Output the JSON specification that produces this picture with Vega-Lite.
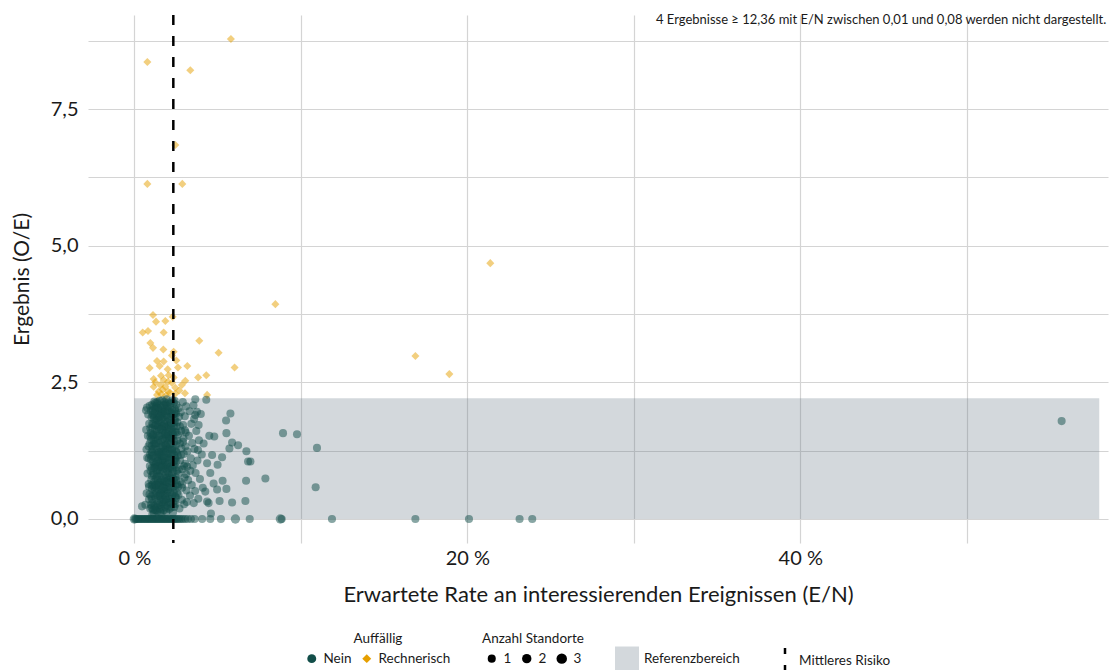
{
  "$schema": "https://vega.github.io/schema/vega-lite/v6.json",
  "width": 1020,
  "height": 528,
  "autosize": {"type": "none"},
  "padding": {"left": 88, "top": 15, "right": 1, "bottom": 127},
  "background": "white",
  "config": {
    "font": "Lato",
    "view": {"stroke": null},
    "axis": {
      "domain": false,
      "ticks": false,
      "gridColor": "#d4d4d4",
      "gridWidth": 1.2,
      "labelFont": "Lato",
      "labelFontSize": 20,
      "labelColor": "#1a1a1a",
      "titleFont": "Lato",
      "titleFontSize": 21,
      "titleFontWeight": "normal",
      "titleColor": "#1a1a1a",
      "labelOverlap": false
    },
    "legend": {
      "orient": "bottom",
      "direction": "horizontal",
      "titleFont": "Lato",
      "labelFont": "Lato",
      "titleFontWeight": "normal",
      "titleFontSize": 13.5,
      "labelFontSize": 13.5,
      "titleColor": "#1a1a1a",
      "labelColor": "#1a1a1a",
      "titleAnchor": "middle",
      "titlePadding": 6,
      "columnPadding": 8,
      "labelOffset": 5,
      "offset": 27,
      "layout": {"bottom": {"anchor": "middle", "direction": "horizontal", "margin": 31}}
    }
  },
  "datasets": {
    "pts": [
      {"rate": 5.8, "oe": 8.78, "auff": "Rechnerisch", "n": 1},
      {"rate": 0.78, "oe": 8.36, "auff": "Rechnerisch", "n": 1},
      {"rate": 3.36, "oe": 8.21, "auff": "Rechnerisch", "n": 1},
      {"rate": 2.46, "oe": 6.84, "auff": "Rechnerisch", "n": 1},
      {"rate": 0.78, "oe": 6.13, "auff": "Rechnerisch", "n": 1},
      {"rate": 2.88, "oe": 6.13, "auff": "Rechnerisch", "n": 1},
      {"rate": 21.38, "oe": 4.68, "auff": "Rechnerisch", "n": 1},
      {"rate": 8.47, "oe": 3.93, "auff": "Rechnerisch", "n": 1},
      {"rate": 16.88, "oe": 2.98, "auff": "Rechnerisch", "n": 1},
      {"rate": 18.92, "oe": 2.65, "auff": "Rechnerisch", "n": 1},
      {"rate": 1.12, "oe": 3.73, "auff": "Rechnerisch", "n": 1},
      {"rate": 1.30, "oe": 3.61, "auff": "Rechnerisch", "n": 1},
      {"rate": 1.86, "oe": 3.62, "auff": "Rechnerisch", "n": 1},
      {"rate": 2.30, "oe": 3.70, "auff": "Rechnerisch", "n": 1},
      {"rate": 0.50, "oe": 3.41, "auff": "Rechnerisch", "n": 1},
      {"rate": 0.82, "oe": 3.44, "auff": "Rechnerisch", "n": 1},
      {"rate": 1.76, "oe": 3.41, "auff": "Rechnerisch", "n": 1},
      {"rate": 3.90, "oe": 3.26, "auff": "Rechnerisch", "n": 1},
      {"rate": 0.96, "oe": 3.22, "auff": "Rechnerisch", "n": 1},
      {"rate": 1.12, "oe": 3.13, "auff": "Rechnerisch", "n": 1},
      {"rate": 1.74, "oe": 3.10, "auff": "Rechnerisch", "n": 1},
      {"rate": 2.36, "oe": 3.06, "auff": "Rechnerisch", "n": 1},
      {"rate": 2.26, "oe": 2.99, "auff": "Rechnerisch", "n": 1},
      {"rate": 5.06, "oe": 3.04, "auff": "Rechnerisch", "n": 1},
      {"rate": 6.02, "oe": 2.77, "auff": "Rechnerisch", "n": 1},
      {"rate": 2.52, "oe": 2.90, "auff": "Rechnerisch", "n": 1},
      {"rate": 1.36, "oe": 2.89, "auff": "Rechnerisch", "n": 1},
      {"rate": 1.76, "oe": 2.88, "auff": "Rechnerisch", "n": 1},
      {"rate": 1.52, "oe": 2.80, "auff": "Rechnerisch", "n": 1},
      {"rate": 0.92, "oe": 2.76, "auff": "Rechnerisch", "n": 1},
      {"rate": 2.00, "oe": 2.74, "auff": "Rechnerisch", "n": 1},
      {"rate": 2.62, "oe": 2.77, "auff": "Rechnerisch", "n": 1},
      {"rate": 3.18, "oe": 2.80, "auff": "Rechnerisch", "n": 1},
      {"rate": 1.60, "oe": 2.62, "auff": "Rechnerisch", "n": 1},
      {"rate": 2.06, "oe": 2.63, "auff": "Rechnerisch", "n": 1},
      {"rate": 2.36, "oe": 2.59, "auff": "Rechnerisch", "n": 1},
      {"rate": 4.32, "oe": 2.63, "auff": "Rechnerisch", "n": 1},
      {"rate": 3.83, "oe": 2.59, "auff": "Rechnerisch", "n": 1},
      {"rate": 3.06, "oe": 2.53, "auff": "Rechnerisch", "n": 1},
      {"rate": 1.16, "oe": 2.56, "auff": "Rechnerisch", "n": 1},
      {"rate": 1.76, "oe": 2.54, "auff": "Rechnerisch", "n": 1},
      {"rate": 2.02, "oe": 2.51, "auff": "Rechnerisch", "n": 1},
      {"rate": 2.26, "oe": 2.49, "auff": "Rechnerisch", "n": 1},
      {"rate": 1.56, "oe": 2.45, "auff": "Rechnerisch", "n": 1},
      {"rate": 1.16, "oe": 2.42, "auff": "Rechnerisch", "n": 1},
      {"rate": 1.86, "oe": 2.42, "auff": "Rechnerisch", "n": 1},
      {"rate": 2.46, "oe": 2.40, "auff": "Rechnerisch", "n": 1},
      {"rate": 1.46, "oe": 2.33, "auff": "Rechnerisch", "n": 1},
      {"rate": 2.02, "oe": 2.33, "auff": "Rechnerisch", "n": 1},
      {"rate": 1.70, "oe": 2.37, "auff": "Rechnerisch", "n": 1},
      {"rate": 4.37, "oe": 2.27, "auff": "Rechnerisch", "n": 1},
      {"rate": 2.46, "oe": 2.29, "auff": "Rechnerisch", "n": 1},
      {"rate": 1.36, "oe": 2.27, "auff": "Rechnerisch", "n": 1},
      {"rate": 1.90, "oe": 2.26, "auff": "Rechnerisch", "n": 1},
      {"rate": 2.15, "oe": 2.31, "auff": "Rechnerisch", "n": 1},
      {"rate": 1.62, "oe": 2.28, "auff": "Rechnerisch", "n": 1},
      {"rate": 3.04, "oe": 2.30, "auff": "Rechnerisch", "n": 1},
      {"rate": 2.70, "oe": 2.35, "auff": "Rechnerisch", "n": 1},
      {"rate": 1.25, "oe": 2.50, "auff": "Rechnerisch", "n": 1},
      {"rate": 2.85, "oe": 2.45, "auff": "Rechnerisch", "n": 1},
      {"rate": 8.93, "oe": 1.57, "auff": "Nein", "n": 1},
      {"rate": 9.77, "oe": 1.55, "auff": "Nein", "n": 1},
      {"rate": 10.97, "oe": 1.30, "auff": "Nein", "n": 1},
      {"rate": 6.97, "oe": 1.05, "auff": "Nein", "n": 1},
      {"rate": 7.87, "oe": 0.74, "auff": "Nein", "n": 1},
      {"rate": 10.89, "oe": 0.58, "auff": "Nein", "n": 1},
      {"rate": 55.7, "oe": 1.79, "auff": "Nein", "n": 1},
      {"rate": 5.77, "oe": 1.93, "auff": "Nein", "n": 1},
      {"rate": 5.51, "oe": 1.80, "auff": "Nein", "n": 1},
      {"rate": 5.53, "oe": 1.57, "auff": "Nein", "n": 1},
      {"rate": 5.87, "oe": 1.40, "auff": "Nein", "n": 1},
      {"rate": 6.23, "oe": 1.35, "auff": "Nein", "n": 1},
      {"rate": 5.71, "oe": 1.29, "auff": "Nein", "n": 1},
      {"rate": 6.73, "oe": 1.24, "auff": "Nein", "n": 1},
      {"rate": 6.83, "oe": 1.05, "auff": "Nein", "n": 1},
      {"rate": 5.27, "oe": 1.13, "auff": "Nein", "n": 1},
      {"rate": 4.80, "oe": 1.51, "auff": "Nein", "n": 1},
      {"rate": 4.50, "oe": 1.52, "auff": "Nein", "n": 1},
      {"rate": 6.71, "oe": 0.70, "auff": "Nein", "n": 1},
      {"rate": 5.30, "oe": 0.70, "auff": "Nein", "n": 1},
      {"rate": 5.53, "oe": 0.55, "auff": "Nein", "n": 1},
      {"rate": 5.12, "oe": 0.33, "auff": "Nein", "n": 1},
      {"rate": 5.87, "oe": 0.30, "auff": "Nein", "n": 1},
      {"rate": 6.67, "oe": 0.33, "auff": "Nein", "n": 1},
      {"rate": 4.97, "oe": 0.54, "auff": "Nein", "n": 1},
      {"rate": 4.60, "oe": 0.10, "auff": "Nein", "n": 1},
      {"rate": 4.37, "oe": 0.32, "auff": "Nein", "n": 1},
      {"rate": 5.00, "oe": 0.99, "auff": "Nein", "n": 1},
      {"rate": 4.67, "oe": 1.17, "auff": "Nein", "n": 1},
      {"rate": 4.37, "oe": 1.02, "auff": "Nein", "n": 1},
      {"rate": 4.56, "oe": 0.84, "auff": "Nein", "n": 1},
      {"rate": 4.26, "oe": 0.50, "auff": "Nein", "n": 1},
      {"rate": 4.46, "oe": 0.29, "auff": "Nein", "n": 1},
      {"rate": 4.76, "oe": 0.65, "auff": "Nein", "n": 1},
      {"rate": 4.16, "oe": 1.38, "auff": "Nein", "n": 1},
      {"rate": 3.86, "oe": 1.72, "auff": "Nein", "n": 1},
      {"rate": 3.66, "oe": 1.90, "auff": "Nein", "n": 1},
      {"rate": 3.76, "oe": 1.96, "auff": "Nein", "n": 1},
      {"rate": 3.66, "oe": 2.19, "auff": "Nein", "n": 1},
      {"rate": 4.32, "oe": 2.18, "auff": "Nein", "n": 1},
      {"rate": 0.70, "oe": 1.99, "auff": "Nein", "n": 1},
      {"rate": 0.96, "oe": 1.51, "auff": "Nein", "n": 1},
      {"rate": 0.86, "oe": 1.11, "auff": "Nein", "n": 1},
      {"rate": 0.66, "oe": 0.26, "auff": "Nein", "n": 1},
      {"rate": 0.46, "oe": 0.23, "auff": "Nein", "n": 1},
      {"rate": 0.74, "oe": 0.47, "auff": "Nein", "n": 1},
      {"rate": 0.77, "oe": 1.12, "auff": "Nein", "n": 1},
      {"rate": 0.71, "oe": 1.63, "auff": "Nein", "n": 1},
      {"rate": 0.79, "oe": 0.83, "auff": "Nein", "n": 1},
      {"rate": 0.83, "oe": 1.91, "auff": "Nein", "n": 1},
      {"rate": 0.88, "oe": 0.36, "auff": "Nein", "n": 1},
      {"rate": 0.92, "oe": 1.38, "auff": "Nein", "n": 1},
      {"rate": 0.76, "oe": 2.04, "auff": "Nein", "n": 1},
      {"rate": 0.86, "oe": 0.64, "auff": "Nein", "n": 1},
      {"rate": 0.93, "oe": 0.97, "auff": "Nein", "n": 1},
      {"rate": 0.81, "oe": 1.52, "auff": "Nein", "n": 1},
      {"rate": 0.89, "oe": 1.74, "auff": "Nein", "n": 1},
      {"rate": 0.95, "oe": 0.19, "auff": "Nein", "n": 1},
      {"rate": 0.73, "oe": 1.27, "auff": "Nein", "n": 1},
      {"rate": 1.01, "oe": 0.41, "auff": "Nein", "n": 1},
      {"rate": 1.04, "oe": 0.93, "auff": "Nein", "n": 1},
      {"rate": 0.98, "oe": 1.57, "auff": "Nein", "n": 1},
      {"rate": 1.07, "oe": 1.21, "auff": "Nein", "n": 1},
      {"rate": 1.03, "oe": 1.86, "auff": "Nein", "n": 1},
      {"rate": 1.10, "oe": 0.63, "auff": "Nein", "n": 1},
      {"rate": 1.12, "oe": 0.17, "auff": "Nein", "n": 1},
      {"rate": 1.06, "oe": 2.09, "auff": "Nein", "n": 1},
      {"rate": 1.15, "oe": 1.44, "auff": "Nein", "n": 1},
      {"rate": 1.09, "oe": 0.29, "auff": "Nein", "n": 1},
      {"rate": 1.18, "oe": 1.02, "auff": "Nein", "n": 1},
      {"rate": 1.13, "oe": 1.73, "auff": "Nein", "n": 1},
      {"rate": 1.21, "oe": 0.52, "auff": "Nein", "n": 1},
      {"rate": 1.16, "oe": 0.81, "auff": "Nein", "n": 1},
      {"rate": 1.24, "oe": 1.96, "auff": "Nein", "n": 1},
      {"rate": 1.19, "oe": 1.29, "auff": "Nein", "n": 1},
      {"rate": 1.27, "oe": 0.38, "auff": "Nein", "n": 1},
      {"rate": 1.22, "oe": 1.63, "auff": "Nein", "n": 1},
      {"rate": 1.05, "oe": 1.34, "auff": "Nein", "n": 1},
      {"rate": 1.11, "oe": 1.99, "auff": "Nein", "n": 1},
      {"rate": 1.28, "oe": 0.74, "auff": "Nein", "n": 1},
      {"rate": 1.25, "oe": 1.12, "auff": "Nein", "n": 1},
      {"rate": 1.02, "oe": 0.71, "auff": "Nein", "n": 1},
      {"rate": 1.14, "oe": 0.46, "auff": "Nein", "n": 1},
      {"rate": 1.20, "oe": 2.15, "auff": "Nein", "n": 1},
      {"rate": 1.08, "oe": 1.66, "auff": "Nein", "n": 1},
      {"rate": 1.26, "oe": 1.48, "auff": "Nein", "n": 1},
      {"rate": 1.17, "oe": 0.11, "auff": "Nein", "n": 1},
      {"rate": 1.23, "oe": 0.95, "auff": "Nein", "n": 1},
      {"rate": 1.00, "oe": 1.09, "auff": "Nein", "n": 1},
      {"rate": 1.29, "oe": 1.81, "auff": "Nein", "n": 1},
      {"rate": 1.13, "oe": 1.16, "auff": "Nein", "n": 1},
      {"rate": 1.06, "oe": 0.55, "auff": "Nein", "n": 1},
      {"rate": 1.19, "oe": 0.68, "auff": "Nein", "n": 1},
      {"rate": 1.24, "oe": 0.24, "auff": "Nein", "n": 1},
      {"rate": 1.09, "oe": 1.90, "auff": "Nein", "n": 1},
      {"rate": 1.27, "oe": 2.03, "auff": "Nein", "n": 1},
      {"rate": 1.16, "oe": 1.53, "auff": "Nein", "n": 1},
      {"rate": 1.04, "oe": 0.21, "auff": "Nein", "n": 1},
      {"rate": 1.22, "oe": 1.38, "auff": "Nein", "n": 1},
      {"rate": 1.31, "oe": 0.57, "auff": "Nein", "n": 1},
      {"rate": 1.34, "oe": 1.26, "auff": "Nein", "n": 1},
      {"rate": 1.38, "oe": 0.14, "auff": "Nein", "n": 1},
      {"rate": 1.33, "oe": 1.88, "auff": "Nein", "n": 1},
      {"rate": 1.41, "oe": 0.89, "auff": "Nein", "n": 1},
      {"rate": 1.36, "oe": 1.61, "auff": "Nein", "n": 1},
      {"rate": 1.44, "oe": 0.42, "auff": "Nein", "n": 1},
      {"rate": 1.39, "oe": 2.11, "auff": "Nein", "n": 1},
      {"rate": 1.47, "oe": 1.07, "auff": "Nein", "n": 1},
      {"rate": 1.42, "oe": 0.71, "auff": "Nein", "n": 1},
      {"rate": 1.49, "oe": 1.79, "auff": "Nein", "n": 1},
      {"rate": 1.45, "oe": 1.39, "auff": "Nein", "n": 1},
      {"rate": 1.52, "oe": 0.26, "auff": "Nein", "n": 1},
      {"rate": 1.48, "oe": 2.00, "auff": "Nein", "n": 1},
      {"rate": 1.55, "oe": 0.96, "auff": "Nein", "n": 1},
      {"rate": 1.51, "oe": 1.52, "auff": "Nein", "n": 1},
      {"rate": 1.58, "oe": 0.61, "auff": "Nein", "n": 1},
      {"rate": 1.54, "oe": 1.19, "auff": "Nein", "n": 1},
      {"rate": 1.61, "oe": 1.94, "auff": "Nein", "n": 1},
      {"rate": 1.57, "oe": 0.35, "auff": "Nein", "n": 1},
      {"rate": 1.64, "oe": 1.33, "auff": "Nein", "n": 1},
      {"rate": 1.60, "oe": 0.83, "auff": "Nein", "n": 1},
      {"rate": 1.67, "oe": 1.70, "auff": "Nein", "n": 1},
      {"rate": 1.63, "oe": 0.09, "auff": "Nein", "n": 1},
      {"rate": 1.69, "oe": 1.08, "auff": "Nein", "n": 1},
      {"rate": 1.66, "oe": 2.17, "auff": "Nein", "n": 1},
      {"rate": 1.35, "oe": 0.97, "auff": "Nein", "n": 1},
      {"rate": 1.40, "oe": 1.45, "auff": "Nein", "n": 1},
      {"rate": 1.46, "oe": 0.54, "auff": "Nein", "n": 1},
      {"rate": 1.53, "oe": 1.68, "auff": "Nein", "n": 1},
      {"rate": 1.59, "oe": 1.42, "auff": "Nein", "n": 1},
      {"rate": 1.65, "oe": 0.49, "auff": "Nein", "n": 1},
      {"rate": 1.32, "oe": 2.06, "auff": "Nein", "n": 1},
      {"rate": 1.43, "oe": 1.13, "auff": "Nein", "n": 1},
      {"rate": 1.50, "oe": 0.78, "auff": "Nein", "n": 1},
      {"rate": 1.56, "oe": 2.08, "auff": "Nein", "n": 1},
      {"rate": 1.62, "oe": 1.23, "auff": "Nein", "n": 1},
      {"rate": 1.68, "oe": 0.69, "auff": "Nein", "n": 1},
      {"rate": 1.37, "oe": 0.33, "auff": "Nein", "n": 1},
      {"rate": 1.44, "oe": 1.86, "auff": "Nein", "n": 1},
      {"rate": 1.58, "oe": 1.03, "auff": "Nein", "n": 1},
      {"rate": 1.66, "oe": 1.57, "auff": "Nein", "n": 1},
      {"rate": 1.34, "oe": 0.77, "auff": "Nein", "n": 1},
      {"rate": 1.48, "oe": 0.19, "auff": "Nein", "n": 1},
      {"rate": 1.55, "oe": 1.31, "auff": "Nein", "n": 1},
      {"rate": 1.61, "oe": 0.23, "auff": "Nein", "n": 1},
      {"rate": 1.69, "oe": 1.85, "auff": "Nein", "n": 1},
      {"rate": 1.39, "oe": 1.73, "auff": "Nein", "n": 1},
      {"rate": 1.52, "oe": 2.16, "auff": "Nein", "n": 1},
      {"rate": 1.63, "oe": 0.98, "auff": "Nein", "n": 1},
      {"rate": 1.71, "oe": 0.44, "auff": "Nein", "n": 1},
      {"rate": 1.74, "oe": 1.47, "auff": "Nein", "n": 1},
      {"rate": 1.77, "oe": 0.16, "auff": "Nein", "n": 1},
      {"rate": 1.73, "oe": 1.97, "auff": "Nein", "n": 1},
      {"rate": 1.80, "oe": 0.92, "auff": "Nein", "n": 1},
      {"rate": 1.76, "oe": 1.23, "auff": "Nein", "n": 1},
      {"rate": 1.83, "oe": 0.62, "auff": "Nein", "n": 1},
      {"rate": 1.79, "oe": 1.74, "auff": "Nein", "n": 1},
      {"rate": 1.86, "oe": 1.36, "auff": "Nein", "n": 1},
      {"rate": 1.82, "oe": 0.31, "auff": "Nein", "n": 1},
      {"rate": 1.88, "oe": 2.09, "auff": "Nein", "n": 1},
      {"rate": 1.85, "oe": 0.81, "auff": "Nein", "n": 1},
      {"rate": 1.91, "oe": 1.12, "auff": "Nein", "n": 1},
      {"rate": 1.87, "oe": 1.58, "auff": "Nein", "n": 1},
      {"rate": 1.94, "oe": 0.47, "auff": "Nein", "n": 1},
      {"rate": 1.90, "oe": 1.89, "auff": "Nein", "n": 1},
      {"rate": 1.97, "oe": 0.99, "auff": "Nein", "n": 1},
      {"rate": 1.93, "oe": 0.13, "auff": "Nein", "n": 1},
      {"rate": 2.00, "oe": 1.67, "auff": "Nein", "n": 1},
      {"rate": 1.96, "oe": 1.31, "auff": "Nein", "n": 1},
      {"rate": 2.03, "oe": 0.71, "auff": "Nein", "n": 1},
      {"rate": 1.99, "oe": 2.02, "auff": "Nein", "n": 1},
      {"rate": 2.06, "oe": 1.19, "auff": "Nein", "n": 1},
      {"rate": 2.02, "oe": 0.38, "auff": "Nein", "n": 1},
      {"rate": 2.09, "oe": 1.82, "auff": "Nein", "n": 1},
      {"rate": 2.05, "oe": 0.58, "auff": "Nein", "n": 1},
      {"rate": 1.72, "oe": 1.06, "auff": "Nein", "n": 1},
      {"rate": 1.78, "oe": 1.89, "auff": "Nein", "n": 1},
      {"rate": 1.84, "oe": 1.04, "auff": "Nein", "n": 1},
      {"rate": 1.89, "oe": 0.55, "auff": "Nein", "n": 1},
      {"rate": 1.95, "oe": 1.52, "auff": "Nein", "n": 1},
      {"rate": 2.01, "oe": 0.87, "auff": "Nein", "n": 1},
      {"rate": 2.07, "oe": 1.44, "auff": "Nein", "n": 1},
      {"rate": 1.75, "oe": 0.67, "auff": "Nein", "n": 1},
      {"rate": 1.81, "oe": 2.14, "auff": "Nein", "n": 1},
      {"rate": 1.88, "oe": 1.26, "auff": "Nein", "n": 1},
      {"rate": 1.92, "oe": 0.76, "auff": "Nein", "n": 1},
      {"rate": 1.98, "oe": 0.24, "auff": "Nein", "n": 1},
      {"rate": 2.04, "oe": 1.96, "auff": "Nein", "n": 1},
      {"rate": 2.08, "oe": 1.02, "auff": "Nein", "n": 1},
      {"rate": 1.73, "oe": 0.27, "auff": "Nein", "n": 1},
      {"rate": 1.86, "oe": 1.69, "auff": "Nein", "n": 1},
      {"rate": 1.94, "oe": 2.19, "auff": "Nein", "n": 1},
      {"rate": 2.00, "oe": 1.38, "auff": "Nein", "n": 1},
      {"rate": 1.79, "oe": 0.51, "auff": "Nein", "n": 1},
      {"rate": 1.91, "oe": 0.35, "auff": "Nein", "n": 1},
      {"rate": 2.06, "oe": 0.84, "auff": "Nein", "n": 1},
      {"rate": 1.83, "oe": 1.45, "auff": "Nein", "n": 1},
      {"rate": 1.97, "oe": 1.78, "auff": "Nein", "n": 1},
      {"rate": 2.10, "oe": 0.18, "auff": "Nein", "n": 1},
      {"rate": 2.12, "oe": 1.27, "auff": "Nein", "n": 1},
      {"rate": 2.15, "oe": 0.49, "auff": "Nein", "n": 1},
      {"rate": 2.18, "oe": 1.71, "auff": "Nein", "n": 1},
      {"rate": 2.14, "oe": 0.93, "auff": "Nein", "n": 1},
      {"rate": 2.21, "oe": 0.21, "auff": "Nein", "n": 1},
      {"rate": 2.17, "oe": 2.05, "auff": "Nein", "n": 1},
      {"rate": 2.24, "oe": 1.09, "auff": "Nein", "n": 1},
      {"rate": 2.20, "oe": 1.49, "auff": "Nein", "n": 1},
      {"rate": 2.27, "oe": 0.66, "auff": "Nein", "n": 1},
      {"rate": 2.23, "oe": 1.88, "auff": "Nein", "n": 1},
      {"rate": 2.30, "oe": 1.31, "auff": "Nein", "n": 1},
      {"rate": 2.26, "oe": 0.37, "auff": "Nein", "n": 1},
      {"rate": 2.33, "oe": 0.86, "auff": "Nein", "n": 1},
      {"rate": 2.29, "oe": 1.63, "auff": "Nein", "n": 1},
      {"rate": 2.36, "oe": 2.12, "auff": "Nein", "n": 1},
      {"rate": 2.32, "oe": 0.12, "auff": "Nein", "n": 1},
      {"rate": 2.39, "oe": 1.17, "auff": "Nein", "n": 1},
      {"rate": 2.35, "oe": 0.59, "auff": "Nein", "n": 1},
      {"rate": 2.42, "oe": 1.84, "auff": "Nein", "n": 1},
      {"rate": 2.38, "oe": 0.98, "auff": "Nein", "n": 1},
      {"rate": 2.45, "oe": 0.41, "auff": "Nein", "n": 1},
      {"rate": 2.41, "oe": 1.42, "auff": "Nein", "n": 1},
      {"rate": 2.48, "oe": 0.77, "auff": "Nein", "n": 1},
      {"rate": 2.44, "oe": 2.01, "auff": "Nein", "n": 1},
      {"rate": 2.51, "oe": 1.24, "auff": "Nein", "n": 1},
      {"rate": 2.47, "oe": 0.27, "auff": "Nein", "n": 1},
      {"rate": 2.54, "oe": 1.58, "auff": "Nein", "n": 1},
      {"rate": 2.50, "oe": 1.93, "auff": "Nein", "n": 1},
      {"rate": 2.57, "oe": 0.63, "auff": "Nein", "n": 1},
      {"rate": 2.53, "oe": 1.05, "auff": "Nein", "n": 1},
      {"rate": 2.13, "oe": 1.96, "auff": "Nein", "n": 1},
      {"rate": 2.19, "oe": 0.74, "auff": "Nein", "n": 1},
      {"rate": 2.25, "oe": 1.57, "auff": "Nein", "n": 1},
      {"rate": 2.31, "oe": 0.99, "auff": "Nein", "n": 1},
      {"rate": 2.37, "oe": 1.76, "auff": "Nein", "n": 1},
      {"rate": 2.43, "oe": 0.54, "auff": "Nein", "n": 1},
      {"rate": 2.49, "oe": 1.35, "auff": "Nein", "n": 1},
      {"rate": 2.55, "oe": 0.88, "auff": "Nein", "n": 1},
      {"rate": 2.16, "oe": 0.31, "auff": "Nein", "n": 1},
      {"rate": 2.28, "oe": 2.17, "auff": "Nein", "n": 1},
      {"rate": 2.40, "oe": 0.22, "auff": "Nein", "n": 1},
      {"rate": 2.52, "oe": 2.09, "auff": "Nein", "n": 1},
      {"rate": 2.22, "oe": 1.18, "auff": "Nein", "n": 1},
      {"rate": 2.34, "oe": 1.53, "auff": "Nein", "n": 1},
      {"rate": 2.46, "oe": 1.11, "auff": "Nein", "n": 1},
      {"rate": 2.58, "oe": 1.77, "auff": "Nein", "n": 1},
      {"rate": 2.61, "oe": 1.16, "auff": "Nein", "n": 1},
      {"rate": 2.65, "oe": 0.44, "auff": "Nein", "n": 1},
      {"rate": 2.69, "oe": 1.87, "auff": "Nein", "n": 1},
      {"rate": 2.63, "oe": 0.82, "auff": "Nein", "n": 1},
      {"rate": 2.73, "oe": 1.38, "auff": "Nein", "n": 1},
      {"rate": 2.67, "oe": 2.03, "auff": "Nein", "n": 1},
      {"rate": 2.77, "oe": 0.68, "auff": "Nein", "n": 1},
      {"rate": 2.71, "oe": 0.19, "auff": "Nein", "n": 1},
      {"rate": 2.81, "oe": 1.61, "auff": "Nein", "n": 1},
      {"rate": 2.75, "oe": 1.07, "auff": "Nein", "n": 1},
      {"rate": 2.85, "oe": 0.35, "auff": "Nein", "n": 1},
      {"rate": 2.79, "oe": 1.95, "auff": "Nein", "n": 1},
      {"rate": 2.89, "oe": 0.91, "auff": "Nein", "n": 1},
      {"rate": 2.83, "oe": 1.29, "auff": "Nein", "n": 1},
      {"rate": 2.93, "oe": 1.72, "auff": "Nein", "n": 1},
      {"rate": 2.87, "oe": 0.57, "auff": "Nein", "n": 1},
      {"rate": 2.97, "oe": 1.19, "auff": "Nein", "n": 1},
      {"rate": 2.91, "oe": 2.14, "auff": "Nein", "n": 1},
      {"rate": 3.01, "oe": 0.76, "auff": "Nein", "n": 1},
      {"rate": 2.95, "oe": 1.47, "auff": "Nein", "n": 1},
      {"rate": 3.05, "oe": 1.01, "auff": "Nein", "n": 1},
      {"rate": 2.99, "oe": 0.27, "auff": "Nein", "n": 1},
      {"rate": 3.09, "oe": 1.58, "auff": "Nein", "n": 1},
      {"rate": 3.03, "oe": 1.88, "auff": "Nein", "n": 1},
      {"rate": 3.13, "oe": 0.52, "auff": "Nein", "n": 1},
      {"rate": 3.07, "oe": 1.33, "auff": "Nein", "n": 1},
      {"rate": 3.17, "oe": 0.96, "auff": "Nein", "n": 1},
      {"rate": 3.11, "oe": 2.06, "auff": "Nein", "n": 1},
      {"rate": 3.19, "oe": 1.24, "auff": "Nein", "n": 1},
      {"rate": 3.15, "oe": 0.31, "auff": "Nein", "n": 1},
      {"rate": 3.23, "oe": 0.71, "auff": "Nein", "n": 1},
      {"rate": 3.28, "oe": 1.52, "auff": "Nein", "n": 1},
      {"rate": 3.34, "oe": 0.43, "auff": "Nein", "n": 1},
      {"rate": 3.31, "oe": 1.97, "auff": "Nein", "n": 1},
      {"rate": 3.39, "oe": 1.11, "auff": "Nein", "n": 1},
      {"rate": 3.45, "oe": 0.62, "auff": "Nein", "n": 1},
      {"rate": 3.42, "oe": 1.74, "auff": "Nein", "n": 1},
      {"rate": 3.51, "oe": 0.98, "auff": "Nein", "n": 1},
      {"rate": 3.48, "oe": 1.39, "auff": "Nein", "n": 1},
      {"rate": 3.57, "oe": 0.29, "auff": "Nein", "n": 1},
      {"rate": 3.61, "oe": 1.28, "auff": "Nein", "n": 1},
      {"rate": 3.55, "oe": 2.08, "auff": "Nein", "n": 1},
      {"rate": 3.68, "oe": 0.84, "auff": "Nein", "n": 1},
      {"rate": 3.72, "oe": 1.61, "auff": "Nein", "n": 1},
      {"rate": 3.65, "oe": 0.51, "auff": "Nein", "n": 1},
      {"rate": 3.79, "oe": 1.07, "auff": "Nein", "n": 1},
      {"rate": 3.84, "oe": 0.37, "auff": "Nein", "n": 1},
      {"rate": 3.88, "oe": 1.44, "auff": "Nein", "n": 1},
      {"rate": 3.94, "oe": 0.73, "auff": "Nein", "n": 1},
      {"rate": 3.99, "oe": 1.92, "auff": "Nein", "n": 1},
      {"rate": 4.05, "oe": 1.18, "auff": "Nein", "n": 1},
      {"rate": 4.11, "oe": 0.57, "auff": "Nein", "n": 1},
      {"rate": 3.36, "oe": 0.88, "auff": "Nein", "n": 1},
      {"rate": 3.59, "oe": 1.83, "auff": "Nein", "n": 1},
      {"rate": 3.82, "oe": 1.26, "auff": "Nein", "n": 1},
      {"rate": 0.97, "oe": 0.88, "auff": "Nein", "n": 1},
      {"rate": 1.01, "oe": 1.45, "auff": "Nein", "n": 1},
      {"rate": 1.05, "oe": 0.36, "auff": "Nein", "n": 1},
      {"rate": 1.10, "oe": 1.27, "auff": "Nein", "n": 1},
      {"rate": 1.14, "oe": 2.06, "auff": "Nein", "n": 1},
      {"rate": 1.18, "oe": 0.59, "auff": "Nein", "n": 1},
      {"rate": 1.23, "oe": 1.71, "auff": "Nein", "n": 1},
      {"rate": 1.26, "oe": 0.99, "auff": "Nein", "n": 1},
      {"rate": 1.30, "oe": 0.16, "auff": "Nein", "n": 1},
      {"rate": 1.33, "oe": 1.54, "auff": "Nein", "n": 1},
      {"rate": 1.37, "oe": 2.14, "auff": "Nein", "n": 1},
      {"rate": 1.40, "oe": 0.65, "auff": "Nein", "n": 1},
      {"rate": 1.44, "oe": 1.21, "auff": "Nein", "n": 1},
      {"rate": 1.47, "oe": 1.91, "auff": "Nein", "n": 1},
      {"rate": 1.51, "oe": 0.44, "auff": "Nein", "n": 1},
      {"rate": 1.54, "oe": 0.87, "auff": "Nein", "n": 1},
      {"rate": 1.58, "oe": 1.76, "auff": "Nein", "n": 1},
      {"rate": 1.62, "oe": 0.53, "auff": "Nein", "n": 1},
      {"rate": 1.65, "oe": 1.15, "auff": "Nein", "n": 1},
      {"rate": 1.69, "oe": 0.31, "auff": "Nein", "n": 1},
      {"rate": 1.72, "oe": 1.62, "auff": "Nein", "n": 1},
      {"rate": 1.76, "oe": 0.97, "auff": "Nein", "n": 1},
      {"rate": 1.80, "oe": 1.55, "auff": "Nein", "n": 1},
      {"rate": 1.84, "oe": 0.22, "auff": "Nein", "n": 1},
      {"rate": 1.87, "oe": 0.98, "auff": "Nein", "n": 1},
      {"rate": 1.91, "oe": 1.68, "auff": "Nein", "n": 1},
      {"rate": 1.95, "oe": 0.59, "auff": "Nein", "n": 1},
      {"rate": 1.99, "oe": 1.13, "auff": "Nein", "n": 1},
      {"rate": 2.02, "oe": 1.55, "auff": "Nein", "n": 1},
      {"rate": 2.06, "oe": 0.29, "auff": "Nein", "n": 1},
      {"rate": 2.10, "oe": 1.63, "auff": "Nein", "n": 1},
      {"rate": 2.14, "oe": 1.12, "auff": "Nein", "n": 1},
      {"rate": 2.18, "oe": 0.57, "auff": "Nein", "n": 1},
      {"rate": 2.22, "oe": 1.92, "auff": "Nein", "n": 1},
      {"rate": 2.26, "oe": 0.83, "auff": "Nein", "n": 1},
      {"rate": 2.30, "oe": 1.46, "auff": "Nein", "n": 1},
      {"rate": 2.34, "oe": 0.28, "auff": "Nein", "n": 1},
      {"rate": 2.38, "oe": 1.69, "auff": "Nein", "n": 1},
      {"rate": 2.42, "oe": 1.07, "auff": "Nein", "n": 1},
      {"rate": 2.46, "oe": 0.61, "auff": "Nein", "n": 1},
      {"rate": 0.99, "oe": 1.98, "auff": "Nein", "n": 1},
      {"rate": 1.03, "oe": 0.61, "auff": "Nein", "n": 1},
      {"rate": 1.07, "oe": 1.74, "auff": "Nein", "n": 1},
      {"rate": 1.12, "oe": 0.84, "auff": "Nein", "n": 1},
      {"rate": 1.16, "oe": 1.37, "auff": "Nein", "n": 1},
      {"rate": 1.21, "oe": 0.43, "auff": "Nein", "n": 1},
      {"rate": 1.25, "oe": 2.12, "auff": "Nein", "n": 1},
      {"rate": 1.29, "oe": 1.03, "auff": "Nein", "n": 1},
      {"rate": 1.32, "oe": 0.48, "auff": "Nein", "n": 1},
      {"rate": 1.36, "oe": 1.82, "auff": "Nein", "n": 1},
      {"rate": 1.41, "oe": 1.18, "auff": "Nein", "n": 1},
      {"rate": 1.45, "oe": 0.29, "auff": "Nein", "n": 1},
      {"rate": 1.49, "oe": 1.64, "auff": "Nein", "n": 1},
      {"rate": 1.53, "oe": 0.67, "auff": "Nein", "n": 1},
      {"rate": 1.57, "oe": 1.97, "auff": "Nein", "n": 1},
      {"rate": 1.61, "oe": 1.07, "auff": "Nein", "n": 1},
      {"rate": 1.64, "oe": 0.72, "auff": "Nein", "n": 1},
      {"rate": 1.68, "oe": 1.45, "auff": "Nein", "n": 1},
      {"rate": 1.72, "oe": 2.03, "auff": "Nein", "n": 1},
      {"rate": 1.75, "oe": 0.36, "auff": "Nein", "n": 1},
      {"rate": 1.79, "oe": 1.29, "auff": "Nein", "n": 1},
      {"rate": 1.83, "oe": 1.81, "auff": "Nein", "n": 1},
      {"rate": 1.86, "oe": 0.69, "auff": "Nein", "n": 1},
      {"rate": 1.90, "oe": 1.34, "auff": "Nein", "n": 1},
      {"rate": 1.94, "oe": 0.91, "auff": "Nein", "n": 1},
      {"rate": 1.98, "oe": 1.98, "auff": "Nein", "n": 1},
      {"rate": 2.01, "oe": 0.52, "auff": "Nein", "n": 1},
      {"rate": 2.05, "oe": 1.71, "auff": "Nein", "n": 1},
      {"rate": 2.09, "oe": 0.66, "auff": "Nein", "n": 1},
      {"rate": 2.13, "oe": 1.48, "auff": "Nein", "n": 1},
      {"rate": 2.17, "oe": 0.96, "auff": "Nein", "n": 1},
      {"rate": 2.21, "oe": 1.66, "auff": "Nein", "n": 1},
      {"rate": 2.25, "oe": 0.44, "auff": "Nein", "n": 1},
      {"rate": 2.29, "oe": 1.21, "auff": "Nein", "n": 1},
      {"rate": 2.33, "oe": 1.91, "auff": "Nein", "n": 1},
      {"rate": 2.37, "oe": 0.71, "auff": "Nein", "n": 1},
      {"rate": 2.41, "oe": 0.33, "auff": "Nein", "n": 1},
      {"rate": 2.45, "oe": 1.59, "auff": "Nein", "n": 1},
      {"rate": 2.49, "oe": 0.95, "auff": "Nein", "n": 1},
      {"rate": 2.53, "oe": 1.69, "auff": "Nein", "n": 1},
      {"rate": 1.00, "oe": 0.26, "auff": "Nein", "n": 1},
      {"rate": 1.06, "oe": 1.52, "auff": "Nein", "n": 1},
      {"rate": 1.11, "oe": 1.05, "auff": "Nein", "n": 1},
      {"rate": 1.15, "oe": 0.24, "auff": "Nein", "n": 1},
      {"rate": 1.20, "oe": 1.87, "auff": "Nein", "n": 1},
      {"rate": 1.28, "oe": 1.33, "auff": "Nein", "n": 1},
      {"rate": 1.35, "oe": 0.89, "auff": "Nein", "n": 1},
      {"rate": 1.42, "oe": 2.03, "auff": "Nein", "n": 1},
      {"rate": 1.50, "oe": 1.17, "auff": "Nein", "n": 1},
      {"rate": 1.56, "oe": 0.41, "auff": "Nein", "n": 1},
      {"rate": 1.63, "oe": 1.83, "auff": "Nein", "n": 1},
      {"rate": 1.70, "oe": 0.88, "auff": "Nein", "n": 1},
      {"rate": 1.77, "oe": 2.08, "auff": "Nein", "n": 1},
      {"rate": 1.85, "oe": 0.43, "auff": "Nein", "n": 1},
      {"rate": 1.92, "oe": 1.49, "auff": "Nein", "n": 1},
      {"rate": 1.99, "oe": 0.76, "auff": "Nein", "n": 1},
      {"rate": 2.04, "oe": 2.13, "auff": "Nein", "n": 1},
      {"rate": 2.11, "oe": 0.42, "auff": "Nein", "n": 1},
      {"rate": 2.19, "oe": 1.38, "auff": "Nein", "n": 1},
      {"rate": 2.27, "oe": 1.99, "auff": "Nein", "n": 1},
      {"rate": 2.35, "oe": 1.06, "auff": "Nein", "n": 1},
      {"rate": 2.44, "oe": 1.79, "auff": "Nein", "n": 1},
      {"rate": 2.56, "oe": 0.47, "auff": "Nein", "n": 1},
      {"rate": 2.62, "oe": 1.54, "auff": "Nein", "n": 1},
      {"rate": 2.68, "oe": 0.91, "auff": "Nein", "n": 1},
      {"rate": 2.74, "oe": 1.69, "auff": "Nein", "n": 1},
      {"rate": 2.80, "oe": 1.17, "auff": "Nein", "n": 1},
      {"rate": 2.86, "oe": 0.63, "auff": "Nein", "n": 1},
      {"rate": 2.92, "oe": 1.41, "auff": "Nein", "n": 1},
      {"rate": 2.98, "oe": 0.97, "auff": "Nein", "n": 1},
      {"rate": 3.04, "oe": 1.62, "auff": "Nein", "n": 1},
      {"rate": 3.10, "oe": 0.82, "auff": "Nein", "n": 1},
      {"rate": 0.94, "oe": 1.18, "auff": "Nein", "n": 1},
      {"rate": 0.88, "oe": 0.59, "auff": "Nein", "n": 1},
      {"rate": 0.92, "oe": 2.07, "auff": "Nein", "n": 1},
      {"rate": 0.85, "oe": 1.33, "auff": "Nein", "n": 1},
      {"rate": 1.02, "oe": 1.23, "auff": "Nein", "n": 1},
      {"rate": 1.18, "oe": 1.84, "auff": "Nein", "n": 1},
      {"rate": 1.34, "oe": 0.61, "auff": "Nein", "n": 1},
      {"rate": 1.46, "oe": 0.96, "auff": "Nein", "n": 1},
      {"rate": 1.59, "oe": 0.18, "auff": "Nein", "n": 1},
      {"rate": 1.67, "oe": 1.93, "auff": "Nein", "n": 1},
      {"rate": 1.78, "oe": 0.74, "auff": "Nein", "n": 1},
      {"rate": 1.89, "oe": 2.11, "auff": "Nein", "n": 1},
      {"rate": 2.03, "oe": 1.27, "auff": "Nein", "n": 1},
      {"rate": 2.16, "oe": 1.81, "auff": "Nein", "n": 1},
      {"rate": 2.24, "oe": 0.69, "auff": "Nein", "n": 1},
      {"rate": 2.39, "oe": 1.93, "auff": "Nein", "n": 1},
      {"rate": 2.51, "oe": 0.71, "auff": "Nein", "n": 1},
      {"rate": 0.91, "oe": 0.45, "auff": "Nein", "n": 1},
      {"rate": 0.96, "oe": 1.66, "auff": "Nein", "n": 1},
      {"rate": 1.03, "oe": 1.15, "auff": "Nein", "n": 1},
      {"rate": 1.08, "oe": 0.08, "auff": "Nein", "n": 1},
      {"rate": 1.12, "oe": 1.55, "auff": "Nein", "n": 1},
      {"rate": 1.17, "oe": 0.93, "auff": "Nein", "n": 1},
      {"rate": 1.21, "oe": 2.01, "auff": "Nein", "n": 1},
      {"rate": 1.26, "oe": 0.62, "auff": "Nein", "n": 1},
      {"rate": 1.31, "oe": 1.39, "auff": "Nein", "n": 1},
      {"rate": 1.35, "oe": 0.21, "auff": "Nein", "n": 1},
      {"rate": 1.39, "oe": 1.05, "auff": "Nein", "n": 1},
      {"rate": 1.43, "oe": 1.68, "auff": "Nein", "n": 1},
      {"rate": 1.48, "oe": 0.62, "auff": "Nein", "n": 1},
      {"rate": 1.52, "oe": 1.88, "auff": "Nein", "n": 1},
      {"rate": 1.56, "oe": 1.22, "auff": "Nein", "n": 1},
      {"rate": 1.60, "oe": 0.47, "auff": "Nein", "n": 1},
      {"rate": 1.64, "oe": 2.02, "auff": "Nein", "n": 1},
      {"rate": 1.68, "oe": 0.95, "auff": "Nein", "n": 1},
      {"rate": 1.71, "oe": 1.33, "auff": "Nein", "n": 1},
      {"rate": 1.74, "oe": 0.58, "auff": "Nein", "n": 1},
      {"rate": 1.78, "oe": 1.71, "auff": "Nein", "n": 1},
      {"rate": 1.81, "oe": 1.12, "auff": "Nein", "n": 1},
      {"rate": 1.85, "oe": 1.95, "auff": "Nein", "n": 1},
      {"rate": 1.88, "oe": 0.37, "auff": "Nein", "n": 1},
      {"rate": 1.92, "oe": 1.21, "auff": "Nein", "n": 1},
      {"rate": 1.96, "oe": 0.68, "auff": "Nein", "n": 1},
      {"rate": 2.00, "oe": 2.06, "auff": "Nein", "n": 1},
      {"rate": 2.04, "oe": 0.94, "auff": "Nein", "n": 1},
      {"rate": 2.08, "oe": 1.52, "auff": "Nein", "n": 1},
      {"rate": 2.12, "oe": 0.79, "auff": "Nein", "n": 1},
      {"rate": 2.16, "oe": 1.36, "auff": "Nein", "n": 1},
      {"rate": 2.20, "oe": 0.27, "auff": "Nein", "n": 1},
      {"rate": 2.24, "oe": 1.76, "auff": "Nein", "n": 1},
      {"rate": 2.28, "oe": 0.92, "auff": "Nein", "n": 1},
      {"rate": 2.32, "oe": 1.58, "auff": "Nein", "n": 1},
      {"rate": 2.36, "oe": 0.48, "auff": "Nein", "n": 1},
      {"rate": 2.40, "oe": 1.28, "auff": "Nein", "n": 1},
      {"rate": 2.47, "oe": 1.97, "auff": "Nein", "n": 1},
      {"rate": 2.55, "oe": 1.21, "auff": "Nein", "n": 1},
      {"rate": 2.64, "oe": 0.59, "auff": "Nein", "n": 1},
      {"rate": 1.05, "oe": 0.79, "auff": "Nein", "n": 1},
      {"rate": 1.13, "oe": 1.93, "auff": "Nein", "n": 1},
      {"rate": 1.22, "oe": 0.17, "auff": "Nein", "n": 1},
      {"rate": 1.30, "oe": 1.72, "auff": "Nein", "n": 1},
      {"rate": 1.38, "oe": 0.82, "auff": "Nein", "n": 1},
      {"rate": 1.46, "oe": 1.52, "auff": "Nein", "n": 1},
      {"rate": 1.54, "oe": 0.12, "auff": "Nein", "n": 1},
      {"rate": 1.62, "oe": 1.64, "auff": "Nein", "n": 1},
      {"rate": 1.70, "oe": 0.56, "auff": "Nein", "n": 1},
      {"rate": 1.78, "oe": 1.16, "auff": "Nein", "n": 1},
      {"rate": 1.86, "oe": 1.56, "auff": "Nein", "n": 1},
      {"rate": 1.94, "oe": 0.19, "auff": "Nein", "n": 1},
      {"rate": 2.02, "oe": 1.85, "auff": "Nein", "n": 1},
      {"rate": 2.10, "oe": 1.08, "auff": "Nein", "n": 1},
      {"rate": 2.18, "oe": 2.11, "auff": "Nein", "n": 1},
      {"rate": 2.26, "oe": 1.26, "auff": "Nein", "n": 1},
      {"rate": 2.34, "oe": 0.74, "auff": "Nein", "n": 1},
      {"rate": 2.42, "oe": 2.16, "auff": "Nein", "n": 1},
      {"rate": 2.50, "oe": 0.39, "auff": "Nein", "n": 1},
      {"rate": 2.58, "oe": 1.43, "auff": "Nein", "n": 1},
      {"rate": 0.00, "oe": 0, "auff": "Nein", "n": 2},
      {"rate": 0.04, "oe": 0, "auff": "Nein", "n": 1},
      {"rate": 0.10, "oe": 0, "auff": "Nein", "n": 1},
      {"rate": 0.17, "oe": 0, "auff": "Nein", "n": 1},
      {"rate": 0.24, "oe": 0, "auff": "Nein", "n": 1},
      {"rate": 0.31, "oe": 0, "auff": "Nein", "n": 1},
      {"rate": 0.38, "oe": 0, "auff": "Nein", "n": 1},
      {"rate": 0.45, "oe": 0, "auff": "Nein", "n": 1},
      {"rate": 0.52, "oe": 0, "auff": "Nein", "n": 1},
      {"rate": 0.60, "oe": 0, "auff": "Nein", "n": 1},
      {"rate": 0.67, "oe": 0, "auff": "Nein", "n": 1},
      {"rate": 0.74, "oe": 0, "auff": "Nein", "n": 1},
      {"rate": 0.81, "oe": 0, "auff": "Nein", "n": 1},
      {"rate": 0.88, "oe": 0, "auff": "Nein", "n": 1},
      {"rate": 0.95, "oe": 0, "auff": "Nein", "n": 1},
      {"rate": 1.02, "oe": 0, "auff": "Nein", "n": 1},
      {"rate": 1.09, "oe": 0, "auff": "Nein", "n": 1},
      {"rate": 1.16, "oe": 0, "auff": "Nein", "n": 1},
      {"rate": 1.23, "oe": 0, "auff": "Nein", "n": 1},
      {"rate": 1.30, "oe": 0, "auff": "Nein", "n": 1},
      {"rate": 1.37, "oe": 0, "auff": "Nein", "n": 1},
      {"rate": 1.44, "oe": 0, "auff": "Nein", "n": 1},
      {"rate": 1.51, "oe": 0, "auff": "Nein", "n": 1},
      {"rate": 1.58, "oe": 0, "auff": "Nein", "n": 1},
      {"rate": 1.65, "oe": 0, "auff": "Nein", "n": 1},
      {"rate": 1.72, "oe": 0, "auff": "Nein", "n": 1},
      {"rate": 1.79, "oe": 0, "auff": "Nein", "n": 1},
      {"rate": 1.86, "oe": 0, "auff": "Nein", "n": 1},
      {"rate": 1.93, "oe": 0, "auff": "Nein", "n": 1},
      {"rate": 2.00, "oe": 0, "auff": "Nein", "n": 1},
      {"rate": 2.07, "oe": 0, "auff": "Nein", "n": 1},
      {"rate": 2.14, "oe": 0, "auff": "Nein", "n": 1},
      {"rate": 2.21, "oe": 0, "auff": "Nein", "n": 1},
      {"rate": 2.28, "oe": 0, "auff": "Nein", "n": 1},
      {"rate": 2.36, "oe": 0, "auff": "Nein", "n": 1},
      {"rate": 2.44, "oe": 0, "auff": "Nein", "n": 1},
      {"rate": 2.52, "oe": 0, "auff": "Nein", "n": 1},
      {"rate": 2.60, "oe": 0, "auff": "Nein", "n": 1},
      {"rate": 2.70, "oe": 0, "auff": "Nein", "n": 1},
      {"rate": 2.80, "oe": 0, "auff": "Nein", "n": 1},
      {"rate": 2.92, "oe": 0, "auff": "Nein", "n": 1},
      {"rate": 3.05, "oe": 0, "auff": "Nein", "n": 1},
      {"rate": 3.20, "oe": 0, "auff": "Nein", "n": 1},
      {"rate": 3.40, "oe": 0, "auff": "Nein", "n": 1},
      {"rate": 3.62, "oe": 0, "auff": "Nein", "n": 1},
      {"rate": 4.07, "oe": 0, "auff": "Nein", "n": 1},
      {"rate": 4.56, "oe": 0, "auff": "Nein", "n": 1},
      {"rate": 5.20, "oe": 0, "auff": "Nein", "n": 1},
      {"rate": 6.07, "oe": 0, "auff": "Nein", "n": 2},
      {"rate": 6.93, "oe": 0, "auff": "Nein", "n": 1},
      {"rate": 8.77, "oe": 0, "auff": "Nein", "n": 2},
      {"rate": 8.85, "oe": 0, "auff": "Nein", "n": 1},
      {"rate": 11.87, "oe": 0, "auff": "Nein", "n": 1},
      {"rate": 16.88, "oe": 0, "auff": "Nein", "n": 1},
      {"rate": 20.10, "oe": 0, "auff": "Nein", "n": 1},
      {"rate": 23.14, "oe": 0, "auff": "Nein", "n": 1},
      {"rate": 23.90, "oe": 0, "auff": "Nein", "n": 1}
    ]
  },
  "layer": [
    {
      "data": {"values": [{"lo": 0, "hi": 57.96, "oe_lo": 0, "oe_hi": 2.21}]},
      "mark": {"type": "rect", "color": "#627482", "opacity": 0.28},
      "encoding": {
        "x": {
          "field": "lo", "type": "quantitative",
          "scale": {"domain": [-2.785, 58.485], "nice": false, "zero": false},
          "title": "Erwartete Rate an interessierenden Ereignissen (E/N)",
          "axis": {
            "values": [0, 10, 20, 30, 40, 50],
            "labelExpr": "datum.value % 20 === 0 ? datum.value + ' %' : ''",
            "labelPadding": 5,
            "titlePadding": 16,
            "titleFontSize": 22
          }
        },
        "x2": {"field": "hi"},
        "y": {
          "field": "oe_lo", "type": "quantitative",
          "scale": {"domain": [-0.44, 9.22], "nice": false, "zero": false},
          "title": "Ergebnis (O/E)",
          "axis": {
            "values": [0, 1.25, 2.5, 3.75, 5, 6.25, 7.5, 8.75],
            "labelExpr": "datum.value % 2.5 === 0 ? replace(format(datum.value, '.1f'), '.', ',') : ''",
            "labelPadding": 10,
            "titlePadding": 18
          }
        },
        "y2": {"field": "oe_hi"}
      }
    },
    {
      "data": {"name": "pts"},
      "mark": {"type": "point", "filled": true, "opacity": 0.5, "strokeWidth": 0},
      "encoding": {
        "x": {"field": "rate", "type": "quantitative", "title": "Erwartete Rate an interessierenden Ereignissen (E/N)"},
        "y": {"field": "oe", "type": "quantitative", "title": "Ergebnis (O/E)"},
        "color": {
          "field": "auff", "type": "nominal",
          "scale": {"domain": ["Nein", "Rechnerisch"], "range": ["#124e49", "#e69f00"]},
          "legend": {
            "title": "Auffällig", "symbolOpacity": 1, "symbolSize": 80, "symbolStrokeWidth": 0,
            "encode": {"symbols": {"update": {"opacity": {"value": 1}}}}
          }
        },
        "shape": {
          "field": "auff", "type": "nominal",
          "scale": {"domain": ["Nein", "Rechnerisch"], "range": ["circle", "diamond"]},
          "legend": {"title": "Auffällig"}
        },
        "size": {
          "field": "n", "type": "ordinal",
          "scale": {"domain": [1, 2, 3], "range": [65, 110, 150]},
          "legend": {
            "title": "Anzahl Standorte", "symbolFillColor": "#000000", "symbolStrokeColor": "#000000", "symbolOpacity": 1, "symbolStrokeWidth": 0,
            "encode": {"symbols": {"update": {"opacity": {"value": 1}, "fill": {"value": "#000000"}}}}
          }
        }
      }
    },
    {
      "data": {"values": []},
      "mark": {"type": "rect"},
      "encoding": {
        "fill": {
          "datum": "Referenzbereich", "type": "nominal",
          "scale": {"range": ["#d3d8dc"]},
          "legend": {"title": " ", "titlePadding": 1, "symbolType": "square", "symbolSize": 576, "symbolOpacity": 1, "symbolStrokeWidth": 0}
        }
      }
    },
    {
      "data": {"values": [{"risk": 2.34}]},
      "mark": {"type": "rule", "color": "black", "strokeWidth": 2.5},
      "encoding": {
        "x": {"field": "risk", "type": "quantitative", "title": "Erwartete Rate an interessierenden Ereignissen (E/N)"},
        "strokeDash": {
          "datum": "Mittleres Risiko", "type": "nominal",
          "scale": {"range": [[10, 11]]},
          "legend": {"title": " ", "titlePadding": 1, "symbolType": "M0,-1L0,1", "symbolSize": 625, "symbolStrokeWidth": 2.5, "symbolStrokeColor": "black", "symbolDash": [9, 8], "symbolDashOffset": 4, "labelOffset": 0}
        }
      }
    },
    {
      "data": {"values": [{"note": "4 Ergebnisse ≥ 12,36 mit E/N zwischen 0,01 und 0,08 werden nicht dargestellt."}]},
      "mark": {"type": "text", "align": "right", "baseline": "middle", "fontSize": 13, "font": "Lato", "color": "#1a1a1a"},
      "encoding": {
        "x": {"datum": 58.38, "type": "quantitative"},
        "y": {"datum": 9.13, "type": "quantitative"},
        "text": {"field": "note"}
      }
    }
  ]
}
